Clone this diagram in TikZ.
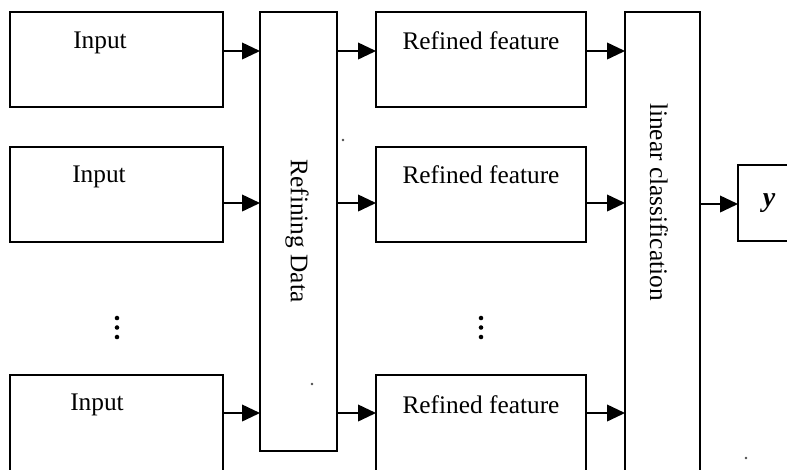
\documentclass[tikz,border=0pt]{standalone}
\usepackage{fontspec}
\setmainfont{Liberation Serif}
\usetikzlibrary{arrows.meta}

\begin{document}
\begin{tikzpicture}[x=0.75pt,y=-0.75pt,
  block/.style={draw=black, line width=1.6pt, fill=none, inner sep=0pt},
  label/.style={inner sep=0pt, font=\fontsize{19}{22}\selectfont},
  arr/.style={line width=1.3pt, -{Triangle[length=13.5pt,width=12.5pt]}},
  dot/.style={fill=black, draw=none},
  speck/.style={fill=black!70, draw=none}]

  % page frame
  \useasboundingbox (0,0) rectangle (787,469);
  \clip (0,0) rectangle (787,469);

  % input boxes
  \draw[block] (10,12)  rectangle (223,107);
  \draw[block] (10,147) rectangle (223,242);
  \draw[block] (10,375) rectangle (223,480);

  % refining block
  \draw[block] (260,12) rectangle (337,451);
  % refined feature boxes
  \draw[block] (376,12)  rectangle (586,107);
  \draw[block] (376,147) rectangle (586,242);
  \draw[block] (376,375) rectangle (586,480);
  % classifier block
  \draw[block] (625,12) rectangle (700,480);
  % output box
  \draw[block] (738,165) rectangle (800,241);

  % anchor coordinates on the box edges
  \coordinate (i1) at (223,51);   \coordinate (r1) at (260,51);
  \coordinate (i2) at (223,203);  \coordinate (r2) at (260,203);
  \coordinate (i3) at (223,413);  \coordinate (r3) at (260,413);
  \coordinate (d1) at (337,51);   \coordinate (f1) at (376,51);
  \coordinate (d2) at (337,203);  \coordinate (f2) at (376,203);
  \coordinate (d3) at (337,413);  \coordinate (f3) at (376,413);
  \coordinate (g1) at (586,51);   \coordinate (c1) at (625,51);
  \coordinate (g2) at (586,203);  \coordinate (c2) at (625,203);
  \coordinate (g3) at (586,413);  \coordinate (c3) at (625,413);
  \coordinate (cy) at (700,204);  \coordinate (oy) at (738,204);

  % labels
  \node[label] (tin1) at (100,43)  {Input};
  \node[label] (tin2) at (99,177)  {Input};
  \node[label] (tin3) at (97,405)  {Input};
  \node[label] (tref1) at (481,41)  {Refined feature};
  \node[label] (tref2) at (481,175) {Refined feature};
  \node[label] (tref3) at (481,405) {Refined feature};
  \node[label, rotate=-90] (trd) at (297,231) {Refining Data};
  \node[label, rotate=-90] (tlc) at (659,202) {linear classification};
  \node[label, font=\fontsize{21}{24}\selectfont] (ty) at (769,203) {\textbf{\textit{y}}};

  % vertical ellipses
  \foreach \yy in {318,327.5,337} {
    \fill[dot] (117,\yy) circle (1.7pt);
    \fill[dot] (481,\yy) circle (1.7pt);
  }

  % connectors
  \draw[arr] (i1) -- (r1);
  \draw[arr] (i2) -- (r2);
  \draw[arr] (i3) -- (r3);
  \draw[arr] (d1) -- (f1);
  \draw[arr] (d2) -- (f2);
  \draw[arr] (d3) -- (f3);
  \draw[arr] (g1) -- (c1);
  \draw[arr] (g2) -- (c2);
  \draw[arr] (g3) -- (c3);
  \draw[arr] (cy) -- (oy);

  % small specks
  \fill[speck] (343,140) circle (1pt);
  \fill[speck] (312,384) circle (1pt);
  \fill[speck] (746,458) circle (1pt);
\end{tikzpicture}
\end{document}
